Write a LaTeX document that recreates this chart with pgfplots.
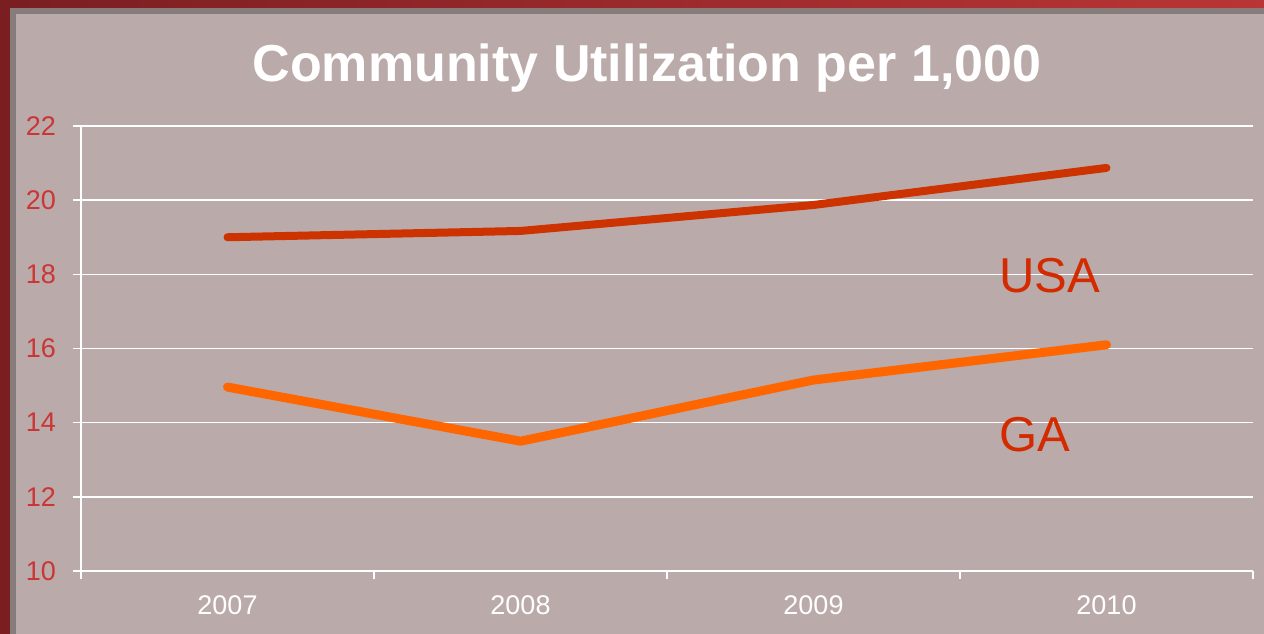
\documentclass[border=0pt]{standalone}
\usepackage{fontspec}
\setmainfont{Liberation Sans}
\usepackage{pgfplots}
\pgfplotsset{compat=1.18}
\definecolor{frameL}{HTML}{7A1E22}
\definecolor{frameR}{HTML}{BA3535}
\definecolor{shadow}{HTML}{877C7C}
\definecolor{bg}{HTML}{BAAAA9}
\definecolor{ticklab}{HTML}{CC3535}
\definecolor{usa}{HTML}{CC3300}
\definecolor{ga}{HTML}{FF6600}
\definecolor{lab}{HTML}{D42A00}
\begin{document}
\begin{tikzpicture}
\useasboundingbox (0,0) rectangle (632pt,316.5pt);
\shade[left color=frameL, right color=frameR] (0,0) rectangle (632pt,316.5pt);
\fill[shadow] (5pt,-1pt) rectangle (633pt,312.5pt);
\fill[bg] (8pt,-1pt) rectangle (633pt,309.5pt);
\node[text=white, anchor=base, font=\fontsize{26}{30}\selectfont\bfseries] at (323.5pt,275.5pt) {Community Utilization per 1,000};
\begin{axis}[
  at={(40.5pt,31pt)}, anchor=south west,
  scale only axis, width=586pt, height=222.5pt,
  xmin=-0.5, xmax=3.5, ymin=10, ymax=22,
  ytick={10,12,...,22},
  xtick={-0.5,0.5,1.5,2.5,3.5}, xticklabels={},
  extra x ticks={0,1,2,3},
  extra x tick labels={2007,2008,2009,2010},
  extra x tick style={major tick length=0pt, grid=none},
  axis x line*=bottom, axis y line*=left,
  axis line style={white, line width=0.8pt, -},
  tick style={white, line width=0.7pt},
  tick align=outside,
  major tick length=4pt,
  ymajorgrids, major grid style={white, line width=0.7pt},
  tick label style={font=\fontsize{13.5}{16}\selectfont},
  /pgf/number format/assume math mode=true,
  yticklabel style={text=ticklab, xshift=-5pt},
  xticklabel style={text=white, yshift=-9pt},
  clip=false,
]
\addplot[usa, line width=4pt, line cap=round, line join=round] coordinates {(0,19.0) (1,19.17) (2,19.87) (3,20.87)};
\addplot[ga, line width=4.5pt, line cap=round, line join=round] coordinates {(0,14.96) (1,13.5) (2,15.15) (3,16.1)};
\node[anchor=base west, inner sep=0pt, text=lab, font=\fontsize{24.5}{28}\selectfont] at (axis cs:2.633,17.52) {USA};
\node[anchor=base west, inner sep=0pt, text=lab, font=\fontsize{24.5}{28}\selectfont] at (axis cs:2.633,13.21) {GA};
\end{axis}
\end{tikzpicture}
\end{document}
